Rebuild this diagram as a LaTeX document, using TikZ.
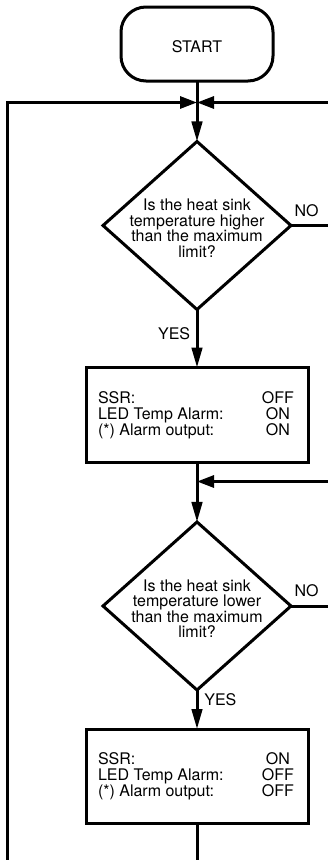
\documentclass[tikz,border=0pt]{standalone}
\usepackage{fontspec}
\setmainfont{TeX Gyre Heros}
\usetikzlibrary{arrows.meta, positioning, shapes.geometric}
\newcommand\srow[2]{\makebox[162pt][l]{#1}\makebox[36pt][c]{#2}}
\newcommand\topstrut{\rule{0pt}{17.5pt}}

\begin{document}
\begin{tikzpicture}[
    x=1pt, y=1pt,
    >={Triangle[length=20pt, width=10.5pt]},
    every node/.append style={font=\fontsize{16}{16}\selectfont},
    flow/.style={line width=3pt},
    mergeflow/.style={flow, -{Triangle[length=17pt, width=12pt]}},
    term/.style={rectangle, rounded corners=25pt, draw, line width=3pt,
                 outer sep=0pt, minimum width=152pt, minimum height=74pt,
                 text height=17pt},
    decision/.style={diamond, draw, line width=3pt, align=center,
                 outer sep=0pt, inner sep=-8pt,
                 minimum width=188pt, minimum height=168pt,
                 font=\fontsize{16}{15.5}\selectfont},
    box/.style={rectangle, draw, line width=3pt, align=left, outer sep=0pt,
                minimum width=222pt, minimum height=95pt, inner xsep=0pt},
  ]
  \useasboundingbox (0,0) rectangle (328,-860);
  \node[term] (start) at (197,-44) {START};
  \coordinate[below=21.5pt of start] (j1);
  \node[decision, below=60.5pt of start] (hi) {\topstrut Is the heat sink\\ temperature higher\\ than the maximum\\ limit?};
  \node[box, below=58pt of hi] (alarmon) {\srow{SSR:}{OFF}\\ \srow{LED Temp Alarm:}{ON}\\ \srow{(*) Alarm output:}{ON}};
  \coordinate[below=19pt of alarmon] (j2);
  \node[decision, below=59.5pt of alarmon] (lo) {\topstrut Is the heat sink\\ temperature lower\\ than the maximum\\ limit?};
  \node[box, below=39pt of lo, minimum height=94pt] (alarmoff) {\srow{SSR:}{ON}\\ \srow{LED Temp Alarm:}{OFF}\\ \srow{(*) Alarm output:}{OFF}};
  \node[above right=5.5pt and 0pt of hi.east] (no1) {NO};
  \node[above right=5.5pt and 0pt of lo.east] (no2) {NO};

  \draw[flow, ->] (start) -- (hi);
  \draw[flow, ->] (hi) -- node[left, pos=0.41, xshift=-2pt] (yes1) {YES} (alarmon);
  \draw[flow, ->] (alarmon) -- (lo);
  \draw[flow, ->] (lo) -- node[right, pos=0.26, xshift=2.5pt] (yes2) {YES} (alarmoff);
  % loops run off the page edge
  \begin{scope}
    \clip (0,0) rectangle (328,-860);
    \draw[mergeflow] (hi.east) -- ++(49,0) |- (j1);
    \draw[mergeflow] (lo.east) -- ++(49,0) |- (j2);
    \draw[mergeflow] (alarmoff.south) -- ++(0,-60) -| ([xshift=-190pt]j1) -- (j1);
  \end{scope}
\end{tikzpicture}
\end{document}
